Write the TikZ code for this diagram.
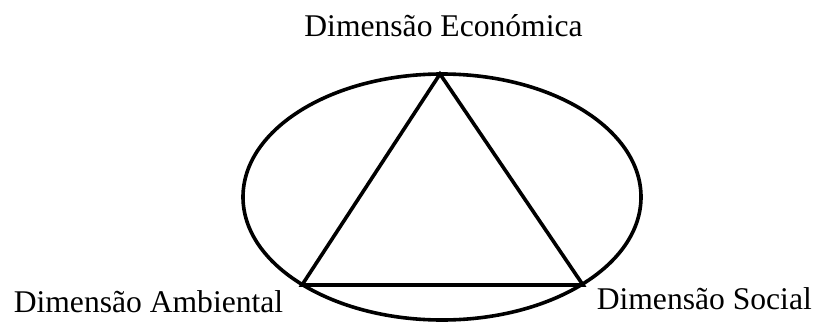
\documentclass[tikz,border=0pt]{standalone}
\usepackage{fontspec}
\setmainfont{Liberation Serif}
\usetikzlibrary{positioning}

\begin{document}
\begin{tikzpicture}[x=1pt, y=1pt, line width=3.6pt,
    dim/.style={inner sep=0pt, font=\fontsize{31.6}{38}\selectfont}]
    \useasboundingbox (0,0) rectangle (813,325);

    \coordinate (econ) at (440,251);
    \coordinate (amb) at (302,40);
    \coordinate (soc) at (583,40);

    \draw (442,128) ellipse [x radius=199, y radius=123];
    \draw[line join=miter] (econ) -- (amb) -- (soc) -- cycle;

    \node[dim, anchor=base] (leconomica) at (443.5,289) {Dimensão Económica};
    \node[dim, anchor=base west] (lambiental) at (12,13) {Dimensão Ambiental};
    \node[dim, anchor=base west] (lsocial) at (595,16) {Dimensão Social};
  \end{tikzpicture}
\end{document}
